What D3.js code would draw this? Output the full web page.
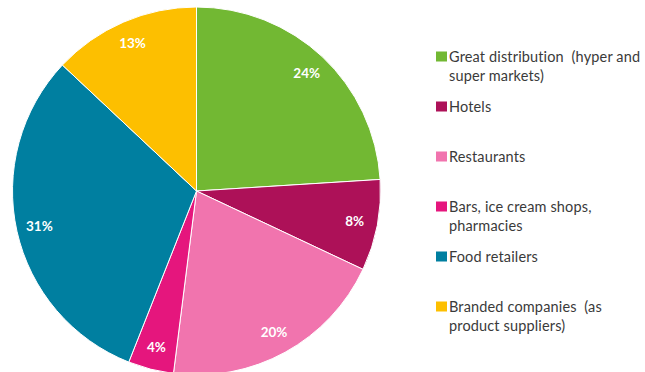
<!DOCTYPE html>
<html>
<head>
<meta charset="utf-8">
<script src="https://cdn.jsdelivr.net/npm/d3@7"></script>
<style>
  body { margin: 0; background: #fff; }
  svg { display: block; }
</style>
</head>
<body>
<svg width="645" height="372"></svg>
<script>
const categories = [
  ["Great distribution  (hyper and", "super markets)"],
  ["Hotels"],
  ["Restaurants"],
  ["Bars, ice cream shops,", "pharmacies"],
  ["Food retailers"],
  ["Branded companies  (as", "product suppliers)"]
];
const values = [24, 8, 20, 4, 31, 13];
const colors = ["#72b833", "#ad1158", "#f174ae", "#e5167d", "#007fa0", "#fdbf00"];

const CX = 196.5, CY = 191, R = 184, LABEL_R = 161;

const svg = d3.select('svg');

const pie = d3.pie().sort(null).value(d => d);
const arc = d3.arc().innerRadius(0).outerRadius(R);
const labelArc = d3.arc().innerRadius(LABEL_R).outerRadius(LABEL_R);

const slices = svg.append('g')
  .attr('transform', `translate(${CX},${CY})`)
  .selectAll('g')
  .data(pie(values))
  .enter()
  .append('g');

slices.append('path')
  .attr('d', arc)
  .style('fill', (d, i) => colors[i])
  .style('stroke', '#fff')
  .style('stroke-width', 1);

slices.append('text')
  .attr('transform', d => `translate(${labelArc.centroid(d)})`)
  .attr('text-anchor', 'middle')
  .attr('dy', '0.35em')
  .style('font-family', 'Lato, "Open Sans", sans-serif')
  .style('font-weight', 'bold')
  .style('font-size', '13.5px')
  .style('fill', '#fff')
  .text(d => d.data + '%');

// legend
const rowY = d3.scaleLinear().domain([0, categories.length - 1]).range([56.5, 306.5]);

const legend = svg.append('g')
  .selectAll('g')
  .data(categories)
  .enter()
  .append('g')
  .attr('transform', (d, i) => `translate(436,${rowY(i)})`);

legend.append('rect')
  .attr('x', 0)
  .attr('y', -5)
  .attr('width', 11)
  .attr('height', 10)
  .style('fill', (d, i) => colors[i]);

legend.append('text')
  .attr('x', 13)
  .style('font-family', 'Lato, "Open Sans", sans-serif')
  .style('font-size', '14.5px')
  .style('letter-spacing', '0.15px')
  .style('white-space', 'pre')
  .style('fill', '#3a3a3a')
  .selectAll('tspan')
  .data(d => d)
  .enter()
  .append('tspan')
  .attr('x', 13)
  .attr('y', (d, i) => i * 19)
  .attr('dy', '0.35em')
  .text(d => d);
</script>
</body>
</html>
